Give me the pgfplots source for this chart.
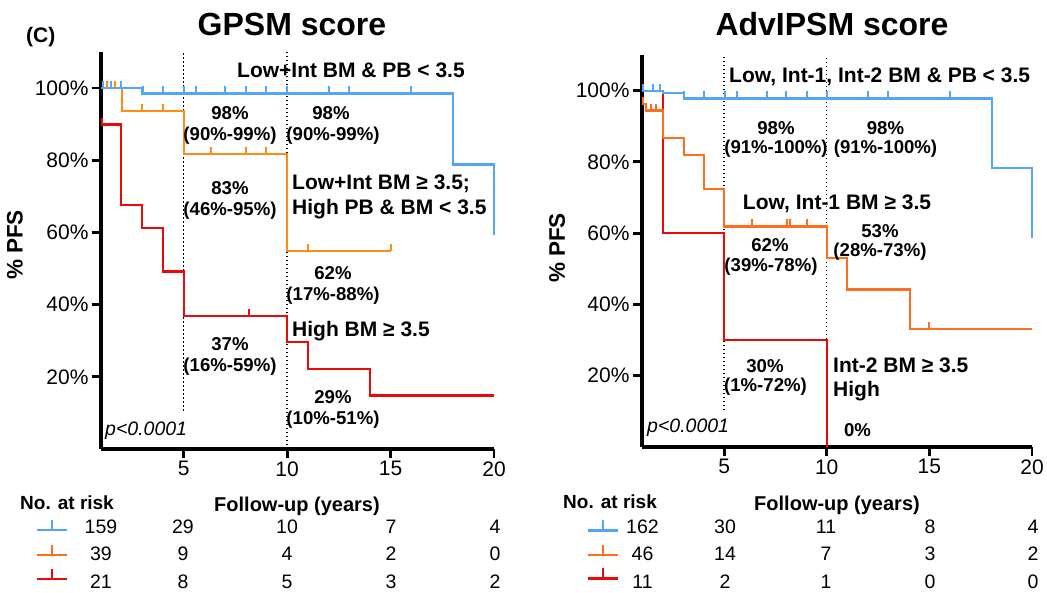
\documentclass[border=0pt]{standalone}
\usepackage{fontspec}
\setmainfont{Liberation Sans}
\usepackage{pgfplots}
\pgfplotsset{compat=1.18}
\definecolor{kmblue}{RGB}{85,165,245}
\definecolor{kmorange}{RGB}{255,140,20}
\definecolor{kmorangeB}{RGB}{255,110,30}
\definecolor{kmred}{RGB}{235,10,10}
\pgfdeclareplotmark{cens}{\pgfpathmoveto{\pgfpoint{0pt}{0pt}}\pgfpathlineto{\pgfpoint{0pt}{7pt}}\pgfusepathqstroke}
\pgfplotsset{
 kmaxis/.style={scale only axis, anchor=south west, xmin=1, xmax=20, ymin=0, ymax=110,
  axis lines=left, axis line style={line width=3.2pt,-}, tick style={line width=2.8pt,black},
  major tick length=9pt, tick align=outside, xtick={5,10,15,20}, ytick={20,40,60,80,100},
  xticklabels={5,10,15,20}, yticklabels={20\%,40\%,60\%,80\%,100\%},
  ticklabel style={font=\fontsize{21}{25}\selectfont}, clip=false, enlargelimits=false},
 km/.style={const plot, line width=2.2pt, no marks},
 cz/.style={only marks, mark=cens, mark options={line width=2pt}},
 dts/.style={black, line width=1.4pt, dash pattern=on 1.4pt off 2.6pt, no marks}}
\newcommand\Lab[5]{\node[anchor=#3,inner sep=0pt,font=#4] at (#1pt,{(593-#2)*1pt}) {#5};}
\newcommand\Leg[3]{\draw[#3, line width=2.4pt] ({(#1-15)*1pt},{(593-#2)*1pt}) -- ({(#1+15)*1pt},{(593-#2)*1pt}) ({#1*1pt},{(593-#2)*1pt}) -- ({#1*1pt},{(593-#2+10)*1pt});}
\newcommand\fG{\fontsize{21}{25}\selectfont\bfseries}
\newcommand\fP{\fontsize{18.6}{22}\selectfont\bfseries}
\newcommand\fR{\fontsize{19.5}{23}\selectfont}
\newcommand\fB{\fontsize{19}{23}\selectfont\bfseries}
\newcommand\fI{\fontsize{19.5}{23}\selectfont\itshape}
\begin{document}
\begin{tikzpicture}
\path[use as bounding box] (0,0) rectangle (1047pt,593pt);
% ---------------- Left: GPSM ----------------
\begin{axis}[kmaxis, at={(101pt,144pt)}, width=393pt, height=397pt]
\addplot[dts] coordinates {(5,10.6) (5,110)};
\addplot[dts] coordinates {(10,0) (10,110)};
\addplot[km, kmred] coordinates {(1,89.9) (1.97,67.5) (3,61.3) (4,49.2) (5,36.9) (10,29.6) (11,22.2) (14,14.8) (20,14.8)};
\addplot[cz, kmred] coordinates {(1.05,89.9) (8.14,36.9)};
\addplot[km, kmorange] coordinates {(1,100) (2.02,93.7) (5,81.8) (10,54.8) (15,54.8)};
\addplot[cz, kmorange] coordinates {(1.3,100) (1.7,100) (3,93.7) (4,93.7) (6.3,81.8) (8,81.8) (9,81.8) (11,54.8) (15,54.8)};
\addplot[km, kmblue] coordinates {(1,100) (3.01,98.5) (18,78.8) (20,59.3)};
\addplot[cz, kmblue] coordinates {(1.08,100) (1.5,100) (1.95,100) (3.01,98.5) (4,98.5) (5,98.5) (5.6,98.5) (7,98.5) (8,98.5) (9,98.5) (10,98.5) (12,98.5) (13,98.5) (16,98.5)};
\end{axis}
% ---------------- Right: AdvIPSM ----------------
\begin{axis}[kmaxis, at={(642pt,146pt)}, width=390pt, height=392pt]
\addplot[dts] coordinates {(5,10.3) (5,110)};
\addplot[dts] coordinates {(10,0) (10,110)};
\addplot[km, kmred] coordinates {(1,100) (2.04,60.1) (5,30.1) (10,0)};
\addplot[km, kmorangeB] coordinates {(1,96.2) (1.2,94.4) (2.04,86.6) (3.05,81.9) (4.02,72.3) (5,61.9) (10,53.1) (11,44.2) (14.04,33.2) (20,33.2)};
\addplot[cz, kmorangeB] coordinates {(1.05,96.2) (1.45,94.4) (1.7,94.4) (6.35,61.9) (8.05,61.9) (8.2,61.9) (9.03,61.9) (15,33.2)};
\addplot[km, kmblue] coordinates {(1,100) (2.04,99.4) (3.05,97.8) (18.06,78.2) (20,58.7)};
\addplot[cz, kmblue] coordinates {(1.05,100) (1.55,100) (1.88,100) (3.05,97.8) (4,97.8) (5.05,97.8) (5.63,97.8) (7.1,97.8) (8.02,97.8) (9.04,97.8) (10,97.8) (12.02,97.8) (13,97.8) (16,97.8)};
\end{axis}
% ---------------- Titles and labels ----------------
\Lab{292}{35.5}{base}{\fontsize{32}{38}\selectfont\bfseries}{GPSM score}
\Lab{832}{35.5}{base}{\fontsize{32}{38}\selectfont\bfseries}{AdvIPSM score}
\Lab{26}{43}{base west}{\fontsize{21}{25}\selectfont\bfseries}{(C)}
\node[rotate=90,inner sep=0pt,font=\fontsize{22.5}{27}\selectfont\bfseries] at (15pt,{(593-245)*1pt}) {\% PFS};
\node[rotate=90,inner sep=0pt,font=\fontsize{22.5}{27}\selectfont\bfseries] at (557pt,{(593-248)*1pt}) {\% PFS};
% Left annotations
\Lab{237}{77.5}{base west}{\fG}{Low+Int BM \& PB < 3.5}
\Lab{230}{120}{base}{\fP}{98\%}
\Lab{230}{141}{base}{\fP}{(90\%-99\%)}
\Lab{331}{120}{base}{\fP}{98\%}
\Lab{333}{141}{base}{\fP}{(90\%-99\%)}
\Lab{230}{195}{base}{\fP}{83\%}
\Lab{230}{216}{base}{\fP}{(46\%-95\%)}
\Lab{292}{190}{base west}{\fG}{Low+Int BM ≥ 3.5;}
\Lab{292}{215}{base west}{\fG}{High PB \& BM < 3.5}
\Lab{333}{279.5}{base}{\fP}{62\%}
\Lab{333}{300.5}{base}{\fP}{(17\%-88\%)}
\Lab{292}{337}{base west}{\fG}{High BM ≥ 3.5}
\Lab{230}{350.5}{base}{\fP}{37\%}
\Lab{230}{371.5}{base}{\fP}{(16\%-59\%)}
\Lab{333}{404}{base}{\fP}{29\%}
\Lab{333}{425}{base}{\fP}{(10\%-51\%)}
\Lab{105}{435.5}{base west}{\fI}{p<0.0001}
% Right annotations
\Lab{729}{83}{base west}{\fG}{Low, Int-1, Int-2 BM \& PB < 3.5}
\Lab{776}{135}{base}{\fP}{98\%}
\Lab{776}{154}{base}{\fP}{(91\%-100\%)}
\Lab{885.5}{135}{base}{\fP}{98\%}
\Lab{885.5}{154}{base}{\fP}{(91\%-100\%)}
\Lab{837}{210}{base}{\fG}{Low, Int-1 BM ≥ 3.5}
\Lab{770}{251.5}{base}{\fP}{62\%}
\Lab{771}{272}{base}{\fP}{(39\%-78\%)}
\Lab{880}{238}{base}{\fP}{53\%}
\Lab{880}{257}{base}{\fP}{(28\%-73\%)}
\Lab{765}{373}{base}{\fP}{30\%}
\Lab{765.5}{392}{base}{\fP}{(1\%-72\%)}
\Lab{833}{373}{base west}{\fG}{Int-2 BM ≥ 3.5}
\Lab{833}{397}{base west}{\fG}{High}
\Lab{857.5}{436.5}{base}{\fP}{0\%}
\Lab{647}{433}{base west}{\fI}{p<0.0001}
% ---------------- Risk tables ----------------
\Lab{20}{509.5}{base west}{\fB}{No. at risk}
\Lab{297}{511.5}{base}{\fontsize{20}{24}\selectfont\bfseries}{Follow-up (years)}
\Leg{52}{530}{kmblue}
\Leg{52}{555}{kmorangeB}
\Leg{52}{579}{kmred}
\Lab{101}{534}{base}{\fR}{159}\Lab{183}{534}{base}{\fR}{29}\Lab{287}{534}{base}{\fR}{10}\Lab{391}{534}{base}{\fR}{7}\Lab{495}{534}{base}{\fR}{4}
\Lab{101}{561}{base}{\fR}{39}\Lab{183}{561}{base}{\fR}{9}\Lab{287}{561}{base}{\fR}{4}\Lab{391}{561}{base}{\fR}{2}\Lab{495}{561}{base}{\fR}{0}
\Lab{101}{589}{base}{\fR}{21}\Lab{183}{589}{base}{\fR}{8}\Lab{287}{589}{base}{\fR}{5}\Lab{391}{589}{base}{\fR}{3}\Lab{495}{589}{base}{\fR}{2}
\Lab{563}{508.5}{base west}{\fB}{No. at risk}
\Lab{837}{510.5}{base}{\fontsize{20}{24}\selectfont\bfseries}{Follow-up (years)}
\Leg{603}{530.5}{kmblue}
\Leg{603}{555}{kmorangeB}
\Leg{603}{578.5}{kmred}
\Lab{642.5}{533.5}{base}{\fR}{162}\Lab{725}{533.5}{base}{\fR}{30}\Lab{826}{533.5}{base}{\fR}{11}\Lab{930}{533.5}{base}{\fR}{8}\Lab{1033}{533.5}{base}{\fR}{4}
\Lab{642.5}{561}{base}{\fR}{46}\Lab{725}{561}{base}{\fR}{14}\Lab{826}{561}{base}{\fR}{7}\Lab{930}{561}{base}{\fR}{3}\Lab{1033}{561}{base}{\fR}{2}
\Lab{642.5}{588.5}{base}{\fR}{11}\Lab{725}{588.5}{base}{\fR}{2}\Lab{826}{588.5}{base}{\fR}{1}\Lab{930}{588.5}{base}{\fR}{0}\Lab{1033}{588.5}{base}{\fR}{0}
\end{tikzpicture}
\end{document}
